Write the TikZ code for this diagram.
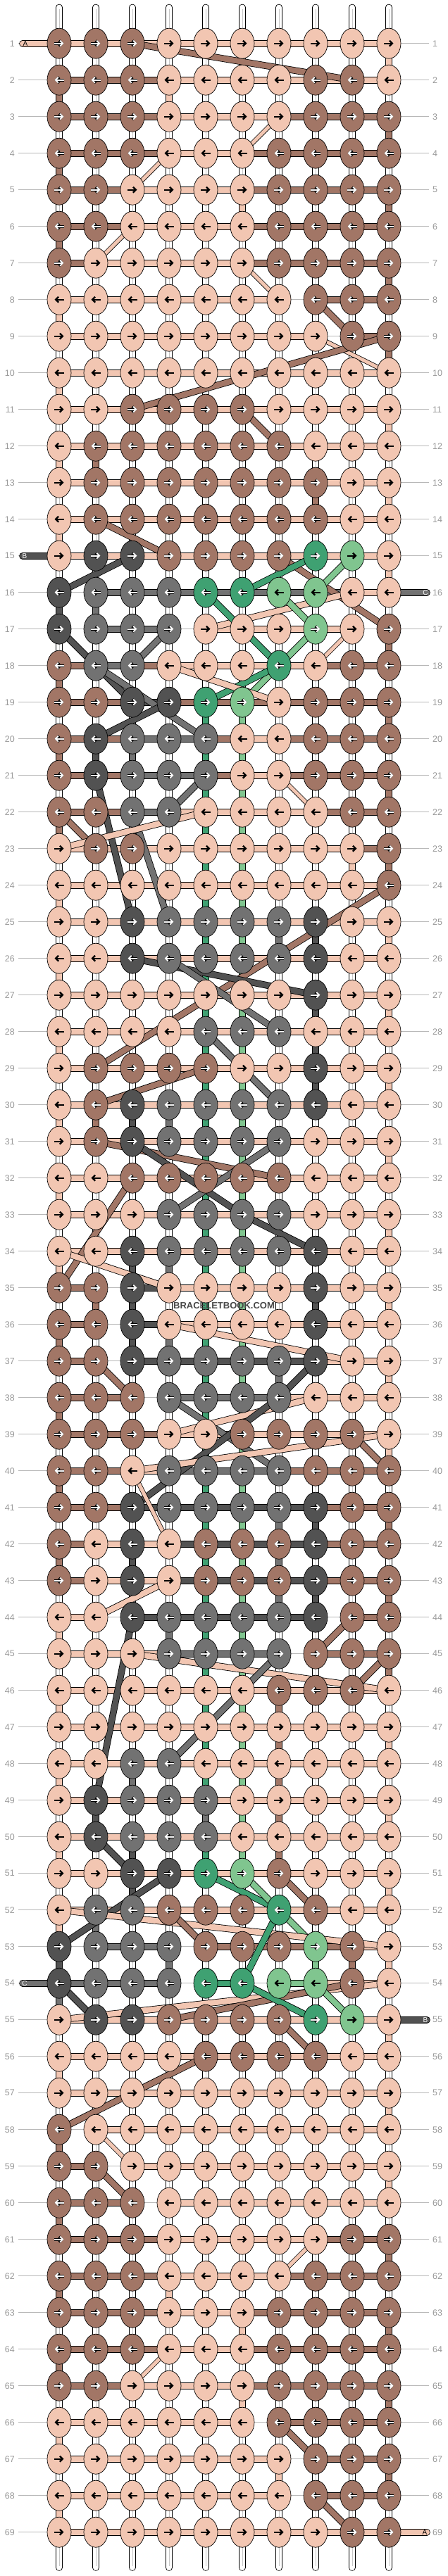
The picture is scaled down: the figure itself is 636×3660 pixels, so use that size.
\documentclass[tikz,border=0pt]{standalone}
\usepackage{fontspec}
\setmainfont{Liberation Sans}
\usepackage{xstring}
\usetikzlibrary{shapes.geometric,arrows.meta,backgrounds}

\definecolor{knp}{HTML}{F2C6B2}
\definecolor{knb}{HTML}{A27666}
\definecolor{knd}{HTML}{525252}
\definecolor{kng}{HTML}{727272}
\definecolor{knG}{HTML}{3FA172}
\definecolor{knL}{HTML}{80C58F}
\definecolor{knl}{HTML}{80C58F}

\tikzset{
  knot/.style={ellipse, draw=black, line width=0.7pt, fill=#1, minimum width=34pt, minimum height=43pt, inner sep=0pt},
  strand/.style={draw=black, double=#1, double distance=8pt, line width=0.8pt},
  core/.style={draw=black!22, line width=0.5pt},
  lblline/.style={draw=black!28, line width=0.7pt},
  rowlbl/.style={text=black!40, font=\fontsize{12.5}{12.5}\selectfont, inner sep=0pt},
  tabtxt/.style={font=\fontsize{10}{10}\selectfont, inner sep=0pt},
  arr/.style={-{Straight Barb[length=4pt,width=8pt]}},
}

% knot colours, row by row
\def\knotrows{1/bbbppppppp,2/bbbppppbbp,3/bbbppppbbb,4/bbbpppbbbb,5/bbppppbbbb,
6/bbppppbbbb,7/bpppppbbbb,8/pppppppbbb,9/ppppppppbb,10/pppppppppp,
11/ppbbbbpppp,12/pbbbbbbppp,13/pbbbbbbbpp,14/pbbbbbbbpp,15/pddbbbbGlp,
16/dgggGGllpp,17/dgggpppLpb,18/bggpppGpbb,19/bbddGLpbbb,20/bdgggppbbb,
21/bdgggppbbb,22/bbggppppbb,23/pbbppppppb,24/pppppppppb,25/ppdggggdpp,
26/ppdggggdpp,27/pppppppdpp,28/ppppgggppp,29/pbbbbppdpp,30/pbdggggdpp,
31/pbdggggppp,32/ppbbbbbppp,33/pppggggppp,34/ppdggggdpp,35/bbdppppdpp,
36/bbdppppdpp,37/bbdggggdpp,38/bbbggggppp,39/bbbppbbbbp,40/bbpggggbbb,
41/bbdggggdbb,42/bpdpbbbdbb,43/bpdpbbbdbb,44/ppdggggdbb,45/pppggggbbb,
46/ppppppbbbp,47/pppppppppp,48/ppggpppppp,49/pdgggppppp,50/pdgggppppp,
51/ppddGLbppp,52/pggbbbGbpp,53/dgggbbbLbp,54/dgggGGllbp,55/pddbbbbGlp,
56/ppppbbbbpp,57/pppppppppp,58/bppppppppp,59/bbpppppppp,60/bbbppppppp,
61/bbbpppppbb,62/bbbppppbbb,63/bbbpppbbbb,64/bbbpppbbbb,65/bbppppbbbb,
66/ppppppbbbb,67/pppppppbbb,68/pppppppbbb,69/ppppppppbb}

% colour of the working thread between neighbouring knots (- = none)
\def\barrows{1/ppppppppp,2/bbbpppppp,3/bbbpppbbb,4/bbbppbbbb,5/bbpppbbbb,
6/bbpppbbbb,7/bppppbbbb,8/pppppp-bb,9/ppppppp-b,10/ppppppppp,
11/ppppppppp,12/ppppppppp,13/ppppppppp,14/ppppppppp,15/ppppppppp,
16/-gggggggp,17/-gg-pppp-,18/bgbppppbb,19/bbdbbbbbb,20/bbggbpbbb,
21/bbggbpbbb,22/bbgppppbb,23/ppppppppb,24/ppppppppp,25/ppppppppp,
26/ppppppppp,27/ppppppppp,28/ppppppppp,29/ppppppppp,30/ppppppppp,
31/ppppppppp,32/ppppppppp,33/ppppppppp,34/ppppppppp,35/b-dpppppp,
36/b-dpppppp,37/b-dddddpp,38/bb-gggppp,39/bbbpppppp,40/bbpgggbbb,
41/bbdddddbb,42/bppddddbb,43/bppddddbb,44/p-ddddd-b,45/pppggg-bb,
46/ppppppppp,47/ppppppppp,48/ppppppppp,49/ppppppppp,50/ppppppppp,
51/ppppppppp,52/ppppppppp,53/-gg-bbbbp,54/ggg-G-Lpp,55/ppppppppp,
56/ppppppppp,57/ppppppppp,58/-pppppppp,59/b-ppppppp,60/bb-pppppp,
61/bbbppppbb,62/bbbpppbbb,63/bbbppbbbb,64/bbbppbbbb,65/bbpppbbbb,
66/ppppp-bbb,67/pppppp-bb,68/pppppp-bb,69/ppppppppp}

% threads carried across knots: row/col -- row/col, colour, width
\def\diags{1/3/2/9/knb/8,3/7/4/6/knp/5,4/4/5/3/knp/5,6/3/7/2/knp/5,7/6/8/7/knp/5,
8/8/9/9/knb/8,9/8/10/10/knp/5,9/10/11/3/knb/8,11/6/12/7/knb/8,14/2/15/4/knb/8,
15/3/16/1/knd/8,15/7/17/10/knb/8,15/8/16/6/knG/8,15/9/16/8/knL/8,16/9/17/5/knp/8,
16/5/18/7/knG/8,16/7/17/8/knL/8,17/8/19/6/knL/8,17/9/18/8/knp/5,17/1/18/2/knd/8,
17/4/18/3/kng/8,18/2/19/3/knd/8,18/2/20/5/kng/8,19/4/20/2/knd/8,18/7/19/5/knG/8,
18/4/19/7/knp/8,21/2/25/3/knd/8,21/5/22/4/kng/8,22/3/25/4/kng/8,22/1/23/2/knb/8,
23/1/22/5/knp/8,21/7/22/8/knp/5,24/10/29/2/knb/8,26/3/27/8/knd/8,26/4/28/7/kng/8,
28/5/30/7/kng/8,29/5/30/2/knb/8,31/2/32/7/knb/8,31/3/33/6/knd/8,31/7/33/4/kng/8,
33/6/34/8/knd/8,32/3/35/1/knb/8,34/1/35/4/knp/8,36/4/37/9/knp/8,37/8/38/7/knd/8,
37/2/38/3/knb/8,38/4/40/7/kng/8,38/8/39/4/knp/8,38/7/41/3/knd/8,39/10/40/3/knp/8,
39/9/40/10/knb/8,40/3/42/4/knp/5,43/4/44/2/knp/8,45/8/44/9/knb/8,46/9/45/10/knb/8,
45/3/46/10/knp/8,45/7/48/4/kng/8,44/3/49/2/knd/8,50/2/51/3/knd/8,51/4/53/1/knd/8,
51/5/52/7/knG/8,51/6/52/7/knL/8,52/7/53/8/knL/8,51/7/52/8/knb/8,52/1/53/10/knp/8,
52/4/53/5/knb/8,52/7/54/6/knG/8,55/1/54/10/knp/8,55/4/54/9/knb/8,54/8/55/9/knL/8,
54/6/55/8/knG/8,54/1/55/2/knd/8,55/7/56/8/knb/8,56/5/58/1/knb/8,58/2/59/3/knp/5,
59/2/60/3/knb/8,61/8/62/7/knp/5,64/4/65/3/knp/5,66/7/67/8/knb/8,68/8/69/9/knb/8}

% vertical links that show a coloured thread: col/row (to row+1)
\def\vlinks{4/2/knp,6/5/knp,2/12/knb,8/13/knb,2/16/kng,2/20/knd,3/20/kng,
9/23/knp,7/25/kng,8/25/knd,8/27/knd,8/28/knd,8/29/knd,2/30/knb,3/30/knd,4/30/kng,
3/34/knd,4/34/kng,2/35/knb,3/35/knd,8/35/knd,3/36/knd,4/36/kng,7/37/kng,
7/41/kng,8/41/knd,3/42/knd,7/42/kng,7/43/kng,8/43/knd,4/44/kng,7/46/knb,
7/47/knb,7/48/knb,7/49/knb,3/48/kng,2/49/knd,5/49/kng,3/50/knd,7/50/knb,
3/51/knd,2/52/kng,4/53/kng,8/53/knL,9/53/knb,1/53/knd,4/62/knp,6/63/knp,
6/65/knp,7/67/knp}

\begin{document}
\begin{tikzpicture}[x=1pt, y=-1pt]
\useasboundingbox (0,0) rectangle (636,3660);

\foreach \c/\r/\v in \vlinks {\expandafter\xdef\csname vc-\c-\r\endcsname{\v}}
\foreach \r/\s in \barrows {\expandafter\xdef\csname br-\r\endcsname{\s}}

% knots
\foreach \r/\s in \knotrows {
  \expandafter\xdef\csname kr-\r\endcsname{\s}
  \foreach \c in {1,...,10} {
    \StrChar{\s}{\c}[\ch]
    \node[knot=kn\ch] (k-\r-\c) at ({32+52*\c}, {9.7+52*\r}) {};
    \ifodd\r \def\sa{-7pt}\def\sb{6.5pt}\else \def\sa{7pt}\def\sb{-6.5pt}\fi
    \IfSubStr{bdgGL}{\ch}{%
      \draw[black, line width=3.8pt, arr] ([xshift=\sa]k-\r-\c.center) -- ([xshift=\sb]k-\r-\c.center);
      \draw[white, line width=1.9pt, arr] ([xshift=\sa]k-\r-\c.center) -- ([xshift=\sb]k-\r-\c.center);
    }{%
      \draw[black, line width=2.3pt, arr] ([xshift=\sa]k-\r-\c.center) -- ([xshift=\sb]k-\r-\c.center);
    }
  }
}

% row numbers
\foreach \r in {1,...,69} {
  \node[rowlbl, anchor=east] (ll-\r) at (21, {9.7+52*\r}) {\r};
  \node[rowlbl, anchor=west] (rl-\r) at (614, {9.7+52*\r}) {\r};
}

\node[tabtxt] (tA) at (36, 61.7) {A};
\node[tabtxt] (tZ) at (603, 3597.7) {A};
\node[tabtxt, text=white] (tB) at (35, 789.7) {B};
\node[tabtxt, text=white] (tC) at (604, 841.7) {C};
\node[tabtxt, text=white] (tC2) at (35, 2817.7) {C};
\node[tabtxt, text=white] (tB2) at (604, 2869.7) {B};
\node[font=\bfseries\fontsize{13}{13}\selectfont, text=black!72, inner sep=1pt] (wm) at (318, 1855) {BRACELETBOOK.COM};

\begin{pgfonlayer}{background}
  \foreach \r in {1,...,69} {
    \draw[lblline] ([xshift=5pt]ll-\r.east) -- (k-\r-1.center);
    \draw[lblline] (k-\r-10.center) -- ([xshift=-5pt]rl-\r.west);
  }
  % loose ends above and below
  \foreach \c in {1,...,10} {
    \coordinate (top-\c) at ({32+52*\c}, 10.5);
    \coordinate (bot-\c) at ({32+52*\c}, 3648);
    \draw[strand=white, line cap=round] (k-1-\c.center) -- (top-\c);
    \draw[core] (k-1-\c.center) -- ([yshift=-2pt]top-\c);
    \draw[strand=white, line cap=round] (k-69-\c.center) -- (bot-\c);
    \draw[core] (k-69-\c.center) -- ([yshift=2pt]bot-\c);
  }
  % vertical links
  \def\wh{white}
  \foreach \r in {1,...,68} {
    \pgfmathtruncatemacro\rn{\r+1}
    \foreach \c in {1,...,10} {
      \def\vc{white}
      \ifnum\c=5 \ifnum\r>18 \ifnum\r<51 \def\vc{knG}\fi\fi\fi
      \ifnum\c=6 \ifnum\r>18 \ifnum\r<51 \def\vc{knL}\fi\fi\fi
      \ifnum\c=1 \ifodd\r\else
        \edef\bs{\csname br-\r\endcsname}\StrChar{\bs}{1}[\bc]
        \if\bc-\edef\ks{\csname kr-\r\endcsname}\StrChar{\ks}{1}[\bc]\fi
        \edef\vc{kn\bc}
      \fi\fi
      \ifnum\c=10 \ifodd\r
        \edef\bs{\csname br-\r\endcsname}\StrChar{\bs}{9}[\bc]
        \if\bc-\edef\ks{\csname kr-\r\endcsname}\StrChar{\ks}{10}[\bc]\fi
        \edef\vc{kn\bc}
      \fi\fi
      \ifcsname vc-\c-\r\endcsname \edef\vc{\csname vc-\c-\r\endcsname}\fi
      \draw[strand=\vc] (k-\r-\c.center) -- (k-\rn-\c.center);
      \ifx\vc\wh \draw[core] (k-\r-\c.center) -- (k-\rn-\c.center); \fi
    }
  }
  % working thread along each row
  \foreach \r/\s in \barrows {
    \foreach \c in {1,...,9} {
      \StrChar{\s}{\c}[\ch]
      \pgfmathtruncatemacro\cn{\c+1}
      \if\ch-
        \draw[lblline] (k-\r-\c.center) -- (k-\r-\cn.center);
      \else
        \draw[strand=kn\ch] (k-\r-\c.center) -- (k-\r-\cn.center);
      \fi
    }
  }
  % threads carried behind
  \foreach \ra/\ca/\rb/\cb/\cl/\w in \diags {
    \draw[strand=\cl, double distance=\w pt] (k-\ra-\ca.center) -- (k-\rb-\cb.center);
  }
  % thread ends on the sides
  \coordinate (endA) at (32, 61.7);
  \coordinate (endZ) at (606, 3597.7);
  \coordinate (endD1) at (32, 789.7);
  \coordinate (endG1) at (606, 841.7);
  \coordinate (endG2) at (32, 2817.7);
  \coordinate (endD2) at (606, 2869.7);
  \draw[strand=knp, line cap=round] (k-1-1.center) -- (endA);
  \draw[strand=knp, line cap=round] (k-69-10.center) -- (endZ);
  \draw[strand=knd, line cap=round] (k-15-1.center) -- (endD1);
  \draw[strand=kng, line cap=round] (k-16-10.center) -- (endG1);
  \draw[strand=kng, line cap=round] (k-54-1.center) -- (endG2);
  \draw[strand=knd, line cap=round] (k-55-10.center) -- (endD2);
\end{pgfonlayer}
\end{tikzpicture}
\end{document}
